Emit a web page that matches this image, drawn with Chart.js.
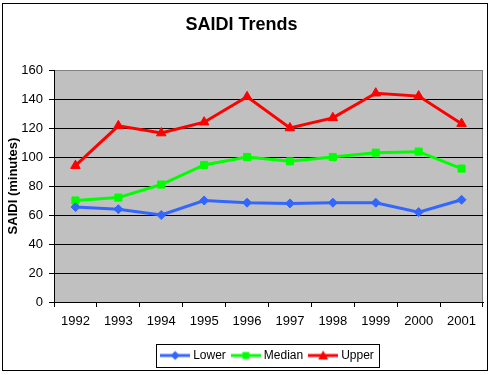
<!DOCTYPE html>
<html>
<head>
<meta charset="utf-8">
<script src="https://cdn.jsdelivr.net/npm/chart.js@4/dist/chart.umd.min.js"></script>
<style>
html, body { margin: 0; padding: 0; background: #fff; }
#wrap { width: 500px; height: 375px; }
</style>
</head>
<body>
<div id="wrap"><canvas id="myChart"></canvas></div>
<script>
var years = ['1992','1993','1994','1995','1996','1997','1998','1999','2000','2001'];
var lower = [65.5, 64, 60, 70, 68.5, 68, 68.5, 68.5, 62, 70.5];
var median = [70, 72, 81, 94.5, 100, 97, 100, 103, 103.7, 92];
var upper = [94, 121.5, 116.5, 124, 141.5, 120, 127, 144, 142, 123];
var yTicks = [0, 20, 40, 60, 80, 100, 120, 140, 160];

var FONT = "'Liberation Sans', Arial, sans-serif";

// little line+marker pictures for the legend
function legendIcon(color, shape){
    var c = document.createElement('canvas');
    c.width = 30; c.height = 12;
    var ctx = c.getContext('2d');
    ctx.strokeStyle = color;
    ctx.fillStyle = color;
    ctx.lineWidth = 3;
    ctx.beginPath();
    ctx.moveTo(0, 6); ctx.lineTo(30, 6);
    ctx.stroke();
    ctx.beginPath();
    if(shape === 'diamond'){
        ctx.moveTo(15, 1.5); ctx.lineTo(19.5, 6); ctx.lineTo(15, 10.5); ctx.lineTo(10.5, 6);
    }else if(shape === 'square'){
        ctx.rect(11.5, 2.5, 7, 7);
    }else{
        ctx.moveTo(15, 1); ctx.lineTo(20, 10); ctx.lineTo(10, 10);
    }
    ctx.closePath();
    ctx.fill();
    return c;
}

var icons = [legendIcon('#3366ff','diamond'), legendIcon('#00ff00','square'), legendIcon('#ff0000','triangle')];

var frame = {
    id: 'frame',
    beforeDraw: function(chart){
        var ctx = chart.ctx, a = chart.chartArea;
        ctx.save();
        ctx.fillStyle = '#c0c0c0';
        ctx.fillRect(a.left, a.top, a.right - a.left, a.bottom - a.top);
        ctx.strokeStyle = '#808080';
        ctx.lineWidth = 1;
        ctx.strokeRect(a.left + 0.5, a.top + 0.5, a.right - a.left - 1, a.bottom - a.top);
        ctx.restore();
    },
    afterDraw: function(chart){
        var ctx = chart.ctx;
        ctx.save();
        ctx.strokeStyle = '#000';
        ctx.lineWidth = 1;
        ctx.strokeRect(2.5, 3.5, 485, 367);
        var boxes = chart.legend.legendHitBoxes;
        if(boxes && boxes.length){
            var l = boxes[0].left, r = boxes[boxes.length-1].left + boxes[boxes.length-1].width;
            var cy = boxes[0].top + boxes[0].height / 2;
            ctx.strokeRect(Math.round(l - 7) + 0.5, Math.round(cy - 11.5) + 0.5, Math.round(r - l + 12), 23);
        }
        ctx.restore();
    }
};

new Chart("myChart", {
    type: "line",
    data: {
        labels: years,
        datasets: [{
            label: "Lower",
            data: lower,
            borderColor: "#3366ff",
            backgroundColor: "#3366ff",
            pointStyle: "rectRot",
            pointRadius: 4.5
        },{
            label: "Median",
            data: median,
            borderColor: "#00ff00",
            backgroundColor: "#00ff00",
            pointStyle: "rect",
            pointRadius: 5
        },{
            label: "Upper",
            data: upper,
            borderColor: "#ff0000",
            backgroundColor: "#ff0000",
            pointStyle: "triangle",
            pointRadius: 5.5
        }]
    },
    options: {
        responsive: true,
        maintainAspectRatio: false,
        animation: false,
        elements: {
            line: { borderWidth: 3, tension: 0, fill: false },
            point: { borderWidth: 1, hoverRadius: 5 }
        },
        layout: { padding: { left: 0, right: 17, top: 0, bottom: 3.5 } },
        plugins: {
            tooltip: { enabled: false },
            title: {
                display: true,
                text: "SAIDI Trends",
                color: "#000",
                font: { family: FONT, size: 18, weight: "bold" },
                padding: { top: 14.2, bottom: 34.2 }
            },
            legend: {
                position: "bottom",
                fullSize: false,
                labels: {
                    color: "#000",
                    font: { family: FONT, size: 12 },
                    usePointStyle: true,
                    pointStyleWidth: 24,
                    padding: 8,
                    generateLabels: function(chart){
                        return chart.data.datasets.map(function(ds, i){
                            return { text: ds.label, pointStyle: icons[i], fillStyle: ds.borderColor,
                                strokeStyle: ds.borderColor, lineWidth: 0, hidden: false, datasetIndex: i, fontColor: '#000' };
                        });
                    }
                }
            }
        },
        scales: {
            x: {
                offset: true,
                grid: { offset: true, drawOnChartArea: false, color: "#000", tickLength: 5 },
                border: { color: "#000" },
                ticks: { color: "#000", font: { family: FONT, size: 13 }, padding: 7, maxRotation: 0 },
                afterFit: function(scale){ scale.height = 39.5; }
            },
            y: {
                min: 0,
                max: 160,
                afterBuildTicks: function(scale){
                    scale.ticks = yTicks.map(function(v){ return { value: v }; });
                },
                grid: {
                    color: function(c){ return c.tick && c.tick.value === 160 ? "#808080" : "#000"; },
                    tickColor: "#000",
                    tickLength: 5
                },
                border: { color: "#000" },
                ticks: { color: "#000", font: { family: FONT, size: 13 }, padding: 6 },
                title: {
                    display: true,
                    text: "SAIDI (minutes)",
                    color: "#000",
                    font: { family: FONT, size: 13, weight: "bold" },
                    padding: { top: 5.2, bottom: 0 }
                },
                afterFit: function(scale){ scale.width = 54; }
            }
        }
    },
    plugins: [frame]
});
</script>
</body>
</html>
